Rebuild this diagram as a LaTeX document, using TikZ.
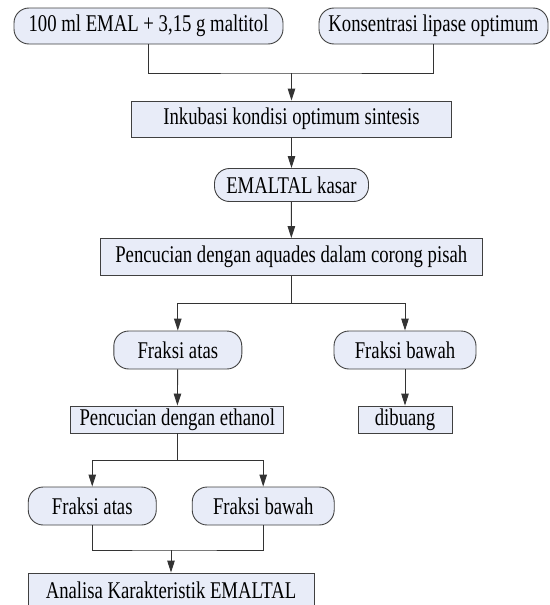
\documentclass[tikz,border=0pt]{standalone}
\usepackage{fontspec}
\setmainfont[FakeStretch=0.78]{Liberation Serif}
\usetikzlibrary{arrows.meta}
\definecolor{isian}{RGB}{232,236,248}

\begin{document}
\begin{tikzpicture}[x=1pt, y=-1pt,
  every node/.style = {font=\fontsize{24}{26}\selectfont, inner sep=0pt, text=black},
  hasil/.style = {draw=black!75, fill=isian, rounded corners=15pt, line width=0.9pt},
  proses/.style = {draw=black!75, fill=isian, line width=0.9pt},
  alur/.style = {draw=black!80, line width=0.9pt},
  panah/.style = {alur, -{Triangle[length=12pt, width=7.5pt]}}]
\useasboundingbox (0,0) rectangle (549,605);
\node[hasil, minimum width=269, minimum height=36] (bahan) at (148.5,26) {100 ml EMAL + 3,15 g maltitol};
\node[hasil, minimum width=229, minimum height=36] (lipase) at (433.5,26) {Konsentrasi lipase optimum};
\node[proses, minimum width=320, minimum height=36] (inkubasi) at (291.5,119) {Inkubasi kondisi optimum sintesis};
\node[hasil, minimum width=154, minimum height=33] (kasar) at (291.5,185) {EMALTAL kasar};
\node[proses, minimum width=382, minimum height=37] (aquades) at (291.25,257) {Pencucian dengan aquades dalam corong pisah};
\node[hasil, minimum width=128, minimum height=38] (atas1) at (177.8,350) {Fraksi atas};
\node[hasil, minimum width=142, minimum height=38] (bawah1) at (405,350) {Fraksi bawah};
\node[proses, minimum width=213, minimum height=27] (etanol) at (177.3,419.5) {Pencucian dengan ethanol};
\node[proses, minimum width=94, minimum height=27] (buang) at (405,419.5) {dibuang};
\node[hasil, minimum width=128, minimum height=38] (atas2) at (92.25,506) {Fraksi atas};
\node[hasil, minimum width=142, minimum height=38] (bawah2) at (263.2,506) {Fraksi bawah};
\node[proses, minimum width=286, minimum height=34] (analisa) at (171,590) {Analisa Karakteristik EMALTAL};
% titik sambungan
\coordinate (gabung1) at (291.5,73);
\coordinate (cabang1) at (291.25,303);
\coordinate (cabang2) at (177.3,460);
\coordinate (gabung2) at (171,550);
\draw[alur] (bahan) |- (gabung1) -| (lipase);
\draw[panah] (gabung1) -- (inkubasi);
\draw[panah] (inkubasi) -- (kasar);
\draw[panah] (kasar) -- (aquades);
\draw[alur] (aquades) -- (cabang1);
\draw[panah] (cabang1) -| (atas1);
\draw[panah] (cabang1) -| (bawah1);
\draw[panah] (atas1) -- (etanol);
\draw[panah] (bawah1) -- (buang);
\draw[alur] (etanol) -- (cabang2);
\draw[panah] (cabang2) -| (atas2);
\draw[panah] (cabang2) -| (bawah2);
\draw[alur] (atas2) |- (gabung2) -| (bawah2);
\draw[panah] (gabung2) -- (analisa);
\end{tikzpicture}
\end{document}
